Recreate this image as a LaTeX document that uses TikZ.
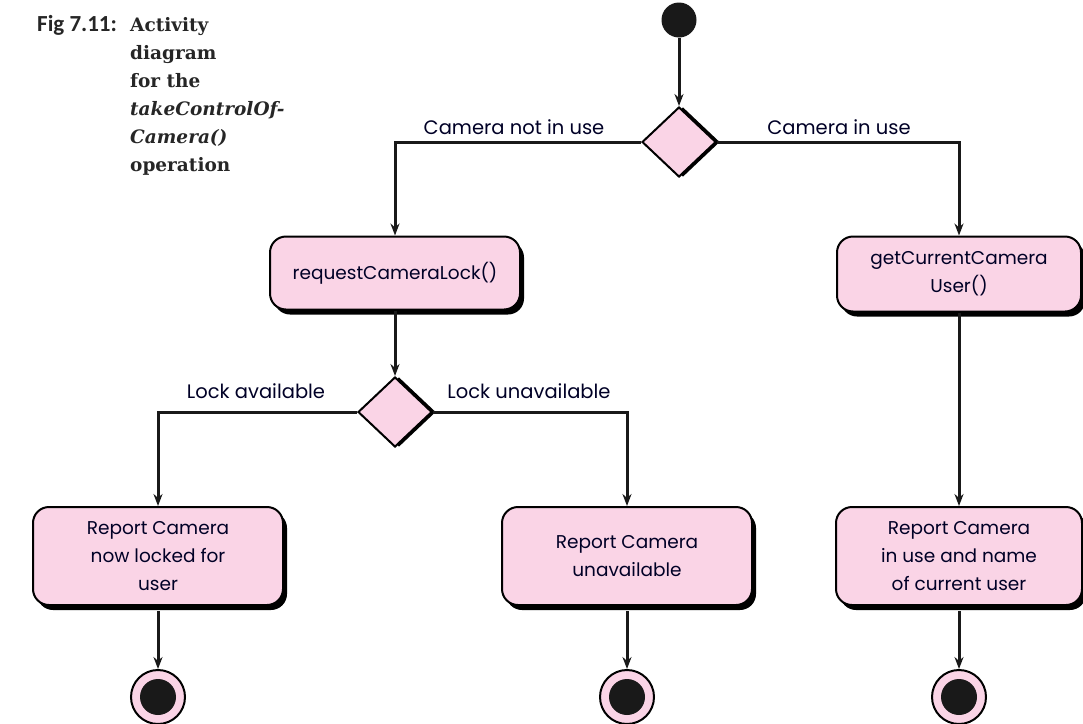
\documentclass[tikz,border=0pt]{standalone}
\usepackage{fontspec}
\setmainfont{Poppins}
\newfontfamily\capfont{DejaVu Serif}
\newfontfamily\figfont{Carlito}
\usetikzlibrary{shapes.geometric,shadows,arrows.meta}
\definecolor{actpink}{RGB}{250,212,230}
\begin{document}
\begin{tikzpicture}[x=1pt,y=-1pt,
  txt/.style={font=\fontsize{18.5}{28}\selectfont, text=black!85!blue},
  act/.style={txt, rectangle, rounded corners=16pt, draw=black, line width=2pt,
    fill=actpink, align=center, inner sep=2pt,
    general shadow={shadow xshift=4pt, shadow yshift=-5pt, fill=black}},
  dec/.style={diamond, draw=black, line width=2pt, fill=actpink,
    minimum width=74pt, minimum height=70pt, inner sep=0pt,
    general shadow={shadow xshift=4pt, shadow yshift=0pt, fill=black}},
  startc/.style={circle, fill=black!90, minimum size=35pt, inner sep=0pt},
  endc/.style={circle, draw=black, line width=2pt, fill=actpink, minimum size=54pt, inner sep=0pt,
    path picture={\fill[black!90] (path picture bounding box.center) circle[radius=18pt];}},
  conn/.style={line width=3pt, black!90},
  arr/.style={conn, -{Stealth[length=12pt,width=9pt]}},
  lbl/.style={txt, font=\fontsize{19.5}{28}\selectfont, inner sep=0pt}]
\useasboundingbox (0,0) rectangle (1083,723);

% caption
\node[anchor=base west, inner sep=0pt, font=\figfont\bfseries\fontsize{23}{26}\selectfont, text=black!85] (fig) at (37,31) {Fig 7.11:};
\node[anchor=north west, inner sep=0pt, align=left, text=black!85,
  font=\capfont\bfseries\fontsize{18.5}{28}\selectfont] (cap) at (130,17)
  {Activity\\diagram\\for the\\\textit{takeControlOf-}\\\textit{Camera()}\\operation};

% nodes
\node[startc] (s) at (679,20) {};
\node[dec] (d1) at (679,142) {};
\node[act, minimum width=250pt, minimum height=73pt] (b1) at (395,273) {requestCameraLock()};
\node[act, minimum width=244pt, minimum height=75pt] (b2) at (959,274) {getCurrentCamera\\User()};
\node[dec] (d2) at (395,412) {};
\node[act, minimum width=250pt, minimum height=98pt] (b3) at (158,556) {Report Camera\\now locked for\\user};
\node[act, minimum width=250pt, minimum height=98pt] (b4) at (627,556) {Report Camera\\unavailable};
\node[act, minimum width=246pt, minimum height=98pt] (b5) at (959,556) {Report Camera\\in use and name\\of current user};
\node[endc] (e1) at (158,697) {};
\node[endc] (e2) at (627,697) {};
\node[endc] (e3) at (959,697) {};

% labels
\node[lbl] (l1) at (514,127) {Camera not in use};
\node[lbl] (l2) at (839,127) {Camera in use};
\node[lbl] (l3) at (256,391) {Lock available};
\node[lbl] (l4) at (529,391) {Lock unavailable};

% connectors
\draw[arr] (s) -- (d1);
\draw[arr] (d1.west) -| (b1.north);
\draw[arr] (d1.east) -| (b2.north);
\draw[arr] (b1.south) -- (d2.north);
\draw[arr] (d2.west) -| (b3.north);
\draw[arr] (d2.east) -| (b4.north);
\draw[arr] (b2.south) -- (b5.north);
\draw[arr] (b3.south) ++(0,5) -- (e1.north);
\draw[arr] (b4.south) ++(0,5) -- (e2.north);
\draw[arr] (b5.south) ++(0,5) -- (e3.north);
\end{tikzpicture}
\end{document}
